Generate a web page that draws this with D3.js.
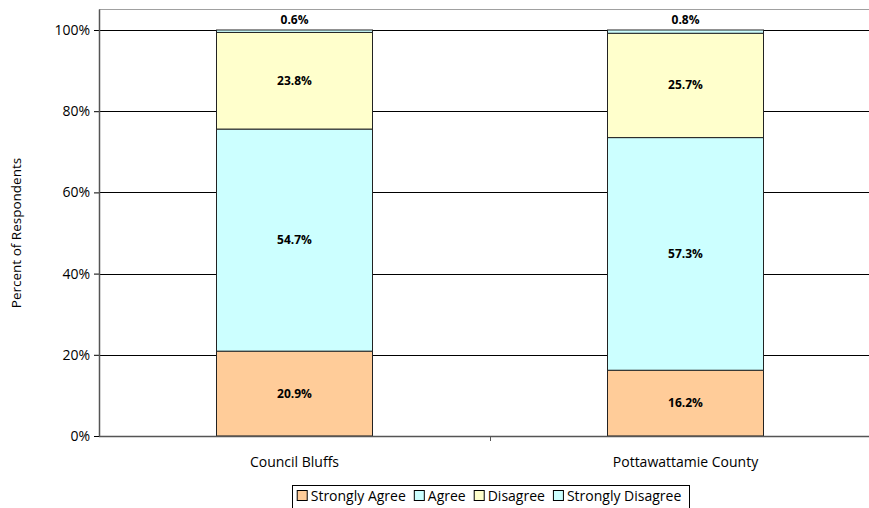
<!DOCTYPE html>
<html>
<head>
<meta charset="utf-8">
<script src="https://cdn.jsdelivr.net/npm/d3@7"></script>
<style>
  html, body { margin: 0; padding: 0; background: #fff; }
  svg { display: block; }
  text { font-family: "Open Sans", "Noto Sans", sans-serif; fill: #000; }
</style>
</head>
<body>
<svg id="chart" width="869" height="508"></svg>
<script>
const categories = ["Council Bluffs", "Pottawattamie County"];
const seriesNames = ["Strongly Agree", "Agree", "Disagree", "Strongly Disagree"];
const seriesColors = ["#FFCC99", "#CCFFFF", "#FFFFCC", "#CCFFFF"];
const stronglyAgree = [20.9, 16.2];
const agree = [54.7, 57.3];
const disagree = [23.8, 25.7];
const stronglyDisagree = [0.6, 0.8];
const yTicks = [0, 20, 40, 60, 80, 100];
const yTitle = "Percent of Respondents";

const seriesValues = [stronglyAgree, agree, disagree, stronglyDisagree];
const svg = d3.select("#chart");
const W = 869, H = 508;
const plot = { left: 99, right: 881, top: 9.5, bottom: 436 };

const x = d3.scaleBand().domain(categories).range([plot.left, plot.right])
  .paddingInner(0.6).paddingOuter(0.3);
const xCat = d3.scaleBand().domain(categories).range([plot.left, plot.right]);
const y = d3.scaleLinear().domain([0, 100]).range([436, 30]);

// plot top border
svg.append("line").attr("x1", plot.left).attr("x2", W).attr("y1", plot.top).attr("y2", plot.top)
  .attr("stroke", "#a0a0a0").attr("stroke-width", 1.2);

// gridlines
svg.append("g").selectAll("line").data(yTicks.filter(d => d > 0)).join("line")
  .attr("x1", plot.left).attr("x2", W)
  .attr("y1", d => Math.round(y(d)) + 0.5).attr("y2", d => Math.round(y(d)) + 0.5)
  .attr("stroke", "#000").attr("stroke-width", 1);

// stacked data
const rows = categories.map((c, i) => {
  const r = { cat: c };
  seriesNames.forEach((s, j) => r[s] = seriesValues[j][i]);
  return r;
});
const stack = d3.stack().keys(seriesNames)(rows);

const gBars = svg.append("g");
stack.forEach((layer, j) => {
  gBars.selectAll(null).data(layer).join("rect")
    .attr("x", d => Math.round(x(d.data.cat)) + 0.5)
    .attr("width", Math.round(x.bandwidth()))
    .attr("y", d => y(d[1]))
    .attr("height", d => y(d[0]) - y(d[1]))
    .attr("fill", seriesColors[j])
    .attr("stroke", "#222").attr("stroke-width", 1);
});

// value labels
stack.forEach((layer, j) => {
  svg.append("g").selectAll("text").data(layer).join("text")
    .attr("x", d => x(d.data.cat) + x.bandwidth() / 2)
    .attr("y", d => {
      const v = d[1] - d[0];
      if (v < 3) return y(d[1]) - 6;
      return y((d[0] + d[1]) / 2) + 4;
    })
    .attr("text-anchor", "middle")
    .attr("font-size", "12px").attr("font-weight", "bold")
    .text(d => (d[1] - d[0]).toFixed(1) + "%");
});

// y axis
const yAxis = d3.axisLeft(y).tickValues(yTicks).tickFormat(d => d + "%").tickSize(5).tickSizeOuter(0);
const gy = svg.append("g").attr("transform", `translate(${plot.left},0)`).call(yAxis);
gy.select(".domain").remove();
gy.selectAll(".tick line").attr("stroke", "#000");
gy.selectAll(".tick text").attr("font-size", "14px").attr("font-family", "Open Sans, sans-serif").attr("fill", "#000").attr("x", -9);
svg.append("line").attr("x1", plot.left + 0.5).attr("x2", plot.left + 0.5)
  .attr("y1", plot.top).attr("y2", plot.bottom).attr("stroke", "#555").attr("stroke-width", 1.5);

// x axis
svg.append("line").attr("x1", plot.left).attr("x2", W).attr("y1", plot.bottom + 0.5).attr("y2", plot.bottom + 0.5)
  .attr("stroke", "#555").attr("stroke-width", 1.5);
const xAxis = d3.axisBottom(xCat).tickSize(0);
const gx = svg.append("g").attr("transform", `translate(0,${plot.bottom})`).call(xAxis);
gx.select(".domain").remove();
gx.selectAll(".tick text").attr("font-size", "14px").attr("font-family", "Open Sans, sans-serif").attr("fill", "#000").attr("dy", 0).attr("y", 31);
// category divider tick
svg.append("g").selectAll("line").data(categories.slice(1)).join("line")
  .attr("x1", d => Math.round(xCat(d)) + 0.5).attr("x2", d => Math.round(xCat(d)) + 0.5)
  .attr("y1", plot.bottom).attr("y2", plot.bottom + 5).attr("stroke", "#555");

// y title
svg.append("text").attr("transform", `translate(21,${(30 + 436) / 2}) rotate(-90)`)
  .attr("text-anchor", "middle").attr("font-size", "13.5px").text(yTitle);

// legend
const lg = svg.append("g");
let cx = 0;
seriesNames.forEach((s, j) => {
  const g = lg.append("g").attr("transform", `translate(${cx},0)`);
  g.append("rect").attr("x", 0.5).attr("y", -10.5).attr("width", 10).attr("height", 10)
    .attr("fill", seriesColors[j]).attr("stroke", "#000");
  const t = g.append("text").attr("x", 14).attr("y", 0).attr("font-size", "14px").text(s);
  cx += 14 + t.node().getComputedTextLength() + 8;
});
const lw = cx - 8;
const boxW = lw + 12;
const lx = 490 - boxW / 2;
lg.attr("transform", `translate(${lx + 5},${501})`);
svg.insert("rect", () => lg.node()).attr("x", Math.round(lx) + 0.5).attr("y", 485.5)
  .attr("width", Math.round(boxW)).attr("height", 30).attr("fill", "#fff").attr("stroke", "#000");
</script>
</body>
</html>
